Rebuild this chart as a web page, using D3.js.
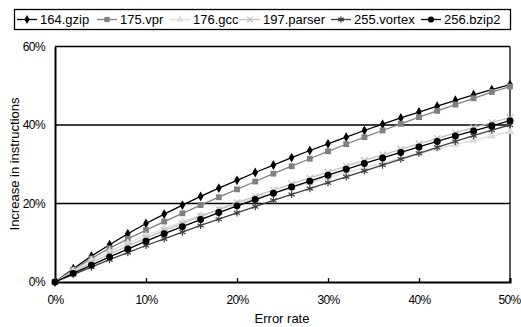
<!DOCTYPE html>
<html>
<head>
<meta charset="utf-8">
<script src="https://cdn.jsdelivr.net/npm/d3@7"></script>
<style>
  body { margin: 0; background: #fff; }
  text { font-family: "Liberation Sans", Arial, sans-serif; fill: #000; }
</style>
</head>
<body>
<div id="chart"></div>
<script>
// error rate (%) on the x axis
const errorRates = [0, 2, 4, 6, 8, 10, 12, 14, 16, 18, 20, 22, 24, 26, 28, 30, 32, 34, 36, 38, 40, 42, 44, 46, 48, 50];

const seriesNames = ['164.gzip', '175.vpr', '176.gcc', '197.parser', '255.vortex', '256.bzip2'];

// increase in instructions (%)
const gzip = [0, 3.4, 6.6, 9.5, 12.3, 14.9, 17.3, 19.6, 21.8, 23.9, 25.9, 27.9, 29.8, 31.7, 33.5, 35.2, 36.9, 38.6, 40.2, 41.8, 43.3, 44.8, 46.3, 47.7, 49.0, 50.3];
const vpr = [0, 3.1, 6.0, 8.6, 11.0, 13.2, 15.4, 17.5, 19.6, 21.6, 23.6, 25.6, 27.6, 29.5, 31.4, 33.3, 35.1, 36.9, 38.6, 40.3, 42.0, 43.6, 45.2, 46.8, 48.4, 49.8];
const gcc = [0, 2.8, 5.5, 7.8, 9.9, 11.8, 13.6, 15.3, 16.9, 18.4, 19.9, 21.3, 22.7, 24.0, 25.3, 26.6, 27.9, 29.1, 30.3, 31.5, 32.7, 33.9, 35.0, 36.1, 37.2, 38.3];
const parser = [0, 2.5, 4.9, 7.1, 9.2, 11.2, 13.1, 14.9, 16.7, 18.5, 20.2, 21.8, 23.4, 25.0, 26.5, 28.0, 29.5, 31.0, 32.4, 33.8, 35.2, 36.6, 38.0, 39.3, 40.6, 41.9];
const vortex = [0, 1.9, 3.8, 5.7, 7.5, 9.3, 11.0, 12.7, 14.4, 16.0, 17.6, 19.2, 20.8, 22.3, 23.8, 25.3, 26.8, 28.3, 29.8, 31.3, 32.8, 34.3, 35.8, 37.3, 38.7, 40.0];
const bzip2 = [0, 2.2, 4.3, 6.4, 8.4, 10.4, 12.3, 14.1, 15.9, 17.7, 19.4, 21.0, 22.6, 24.2, 25.7, 27.2, 28.7, 30.2, 31.6, 33.0, 34.4, 35.8, 37.2, 38.5, 39.8, 41.1];

const xTicks = [0, 10, 20, 30, 40, 50];
const yTicks = [0, 20, 40, 60];

const seriesValues = [gzip, vpr, gcc, parser, vortex, bzip2];
const styles = [
  {color: '#000000', symbol: d3.symbolDiamond, size: 28, filled: true},
  {color: '#808080', symbol: d3.symbolSquare, size: 34, filled: true},
  {color: '#dcdcdc', symbol: d3.symbolTriangle, size: 30, filled: true},
  {color: '#c0c0c0', symbol: d3.symbolTimes, size: 30, filled: false},
  {color: '#404040', symbol: d3.symbolAsterisk, size: 36, filled: false},
  {color: '#000000', symbol: d3.symbolCircle, size: 38, filled: true}
];

const width = 521;
const height = 327;

const svg = d3.select('#chart')
  .append('svg')
  .attr('width', width)
  .attr('height', height);

const x = d3.scaleLinear().domain([0, 50]).range([55, 510]);
const y = d3.scaleLinear().domain([0, 60]).range([282, 46.5]);

// gridlines and frame
svg.append('g')
  .selectAll('line')
  .data(yTicks.filter(d => d > 0))
  .enter()
  .append('line')
  .attr('x1', x(0))
  .attr('x2', x(50))
  .attr('y1', d => y(d))
  .attr('y2', d => y(d))
  .attr('stroke', '#000')
  .attr('stroke-width', 1.3);

svg.append('line')
  .attr('x1', x(50)).attr('x2', x(50))
  .attr('y1', y(0)).attr('y2', y(60))
  .attr('stroke', '#000').attr('stroke-width', 1.3);

// x axis
const xAxis = d3.axisBottom(x)
  .tickValues(xTicks)
  .tickSize(-4)
  .tickPadding(13)
  .tickFormat(d => d + '%');
const gx = svg.append('g')
  .attr('transform', 'translate(0,' + y(0) + ')')
  .call(xAxis);
gx.select('.domain').attr('stroke', '#000').attr('stroke-width', 2);
gx.selectAll('.tick line').attr('stroke', '#000').attr('stroke-width', 1.3);
gx.selectAll('text').style('font-size', '12px').style('letter-spacing', '-0.6px');
gx.selectAll('.tick').filter(d => d === 50).select('text').attr('dx', '-1');

// y axis
const yAxis = d3.axisLeft(y)
  .tickValues(yTicks)
  .tickSize(0)
  .tickPadding(10)
  .tickFormat(d => d + '%');
const gy = svg.append('g')
  .attr('transform', 'translate(' + x(0) + ',0)')
  .call(yAxis);
gy.select('.domain').attr('stroke', '#000').attr('stroke-width', 2);
gy.selectAll('text').style('font-size', '12px').style('letter-spacing', '-0.6px');

// series
const line = d3.line()
  .x((d, i) => x(errorRates[i]))
  .y(d => y(d));

seriesValues.forEach((vals, k) => {
  const s = styles[k];
  const g = svg.append('g');
  g.append('path')
    .attr('d', line(vals))
    .attr('fill', 'none')
    .attr('stroke', s.color)
    .attr('stroke-width', 1.3);
  g.selectAll('path.mark')
    .data(vals)
    .enter()
    .append('path')
    .attr('class', 'mark')
    .attr('transform', (d, i) => 'translate(' + x(errorRates[i]) + ',' + y(d) + ')')
    .attr('d', d3.symbol().type(s.symbol).size(s.size))
    .attr('fill', s.filled ? s.color : 'none')
    .attr('stroke', s.color)
    .attr('stroke-width', s.filled ? 0 : 1.2);
});

// axis titles
svg.append('text')
  .attr('x', 282)
  .attr('y', 323)
  .attr('text-anchor', 'middle')
  .style('font-size', '13px')
  .text('Error rate');

svg.append('text')
  .attr('transform', 'translate(19,164) rotate(-90)')
  .attr('text-anchor', 'middle')
  .style('font-size', '13px')
  .text('Increase in instructions');

// legend
const legend = svg.append('g');
legend.append('rect')
  .attr('x', 14.5).attr('y', 9.5)
  .attr('width', 496).attr('height', 20)
  .attr('fill', '#fff')
  .attr('stroke', '#000')
  .attr('stroke-width', 1.3);

const legendX = [17, 97, 170, 240, 331, 421];
seriesNames.forEach((name, k) => {
  const s = styles[k];
  const lx = legendX[k];
  legend.append('line')
    .attr('x1', lx).attr('x2', lx + 20)
    .attr('y1', 19.5).attr('y2', 19.5)
    .attr('stroke', s.color).attr('stroke-width', 1.3);
  legend.append('path')
    .attr('transform', 'translate(' + (lx + 10) + ',19.5)')
    .attr('d', d3.symbol().type(s.symbol).size(s.size * 0.8))
    .attr('fill', s.filled ? s.color : 'none')
    .attr('stroke', s.color)
    .attr('stroke-width', s.filled ? 0 : 1.2);
  legend.append('text')
    .attr('x', lx + 23)
    .attr('y', 24)
    .style('font-size', '13px')
    .text(name);
});
</script>
</body>
</html>
